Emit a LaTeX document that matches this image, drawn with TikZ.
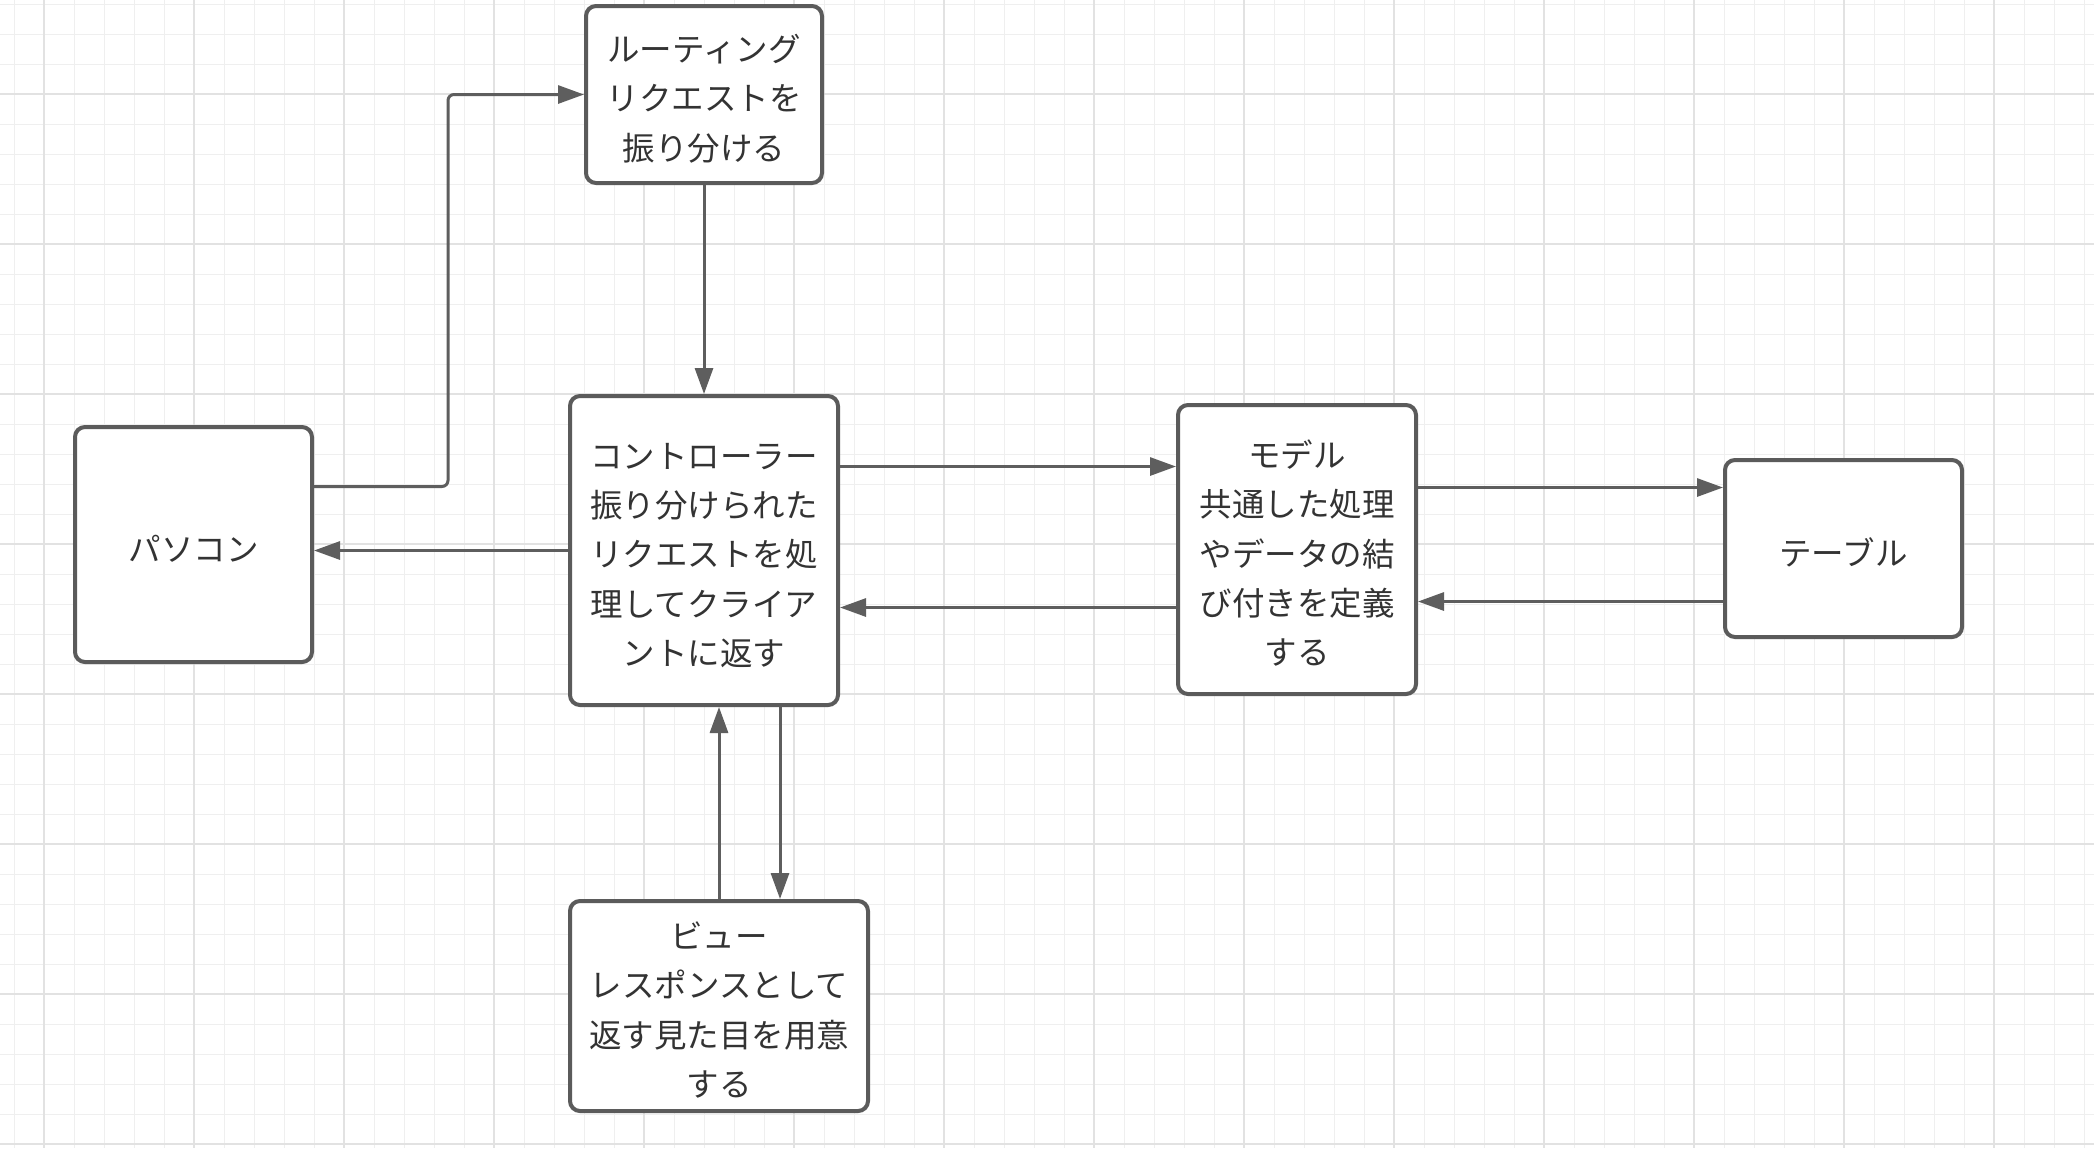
\documentclass[tikz,border=0pt]{standalone}
\usepackage{fontspec}
\setmainfont{Noto Sans CJK JP}
\usetikzlibrary{arrows.meta, positioning}
\definecolor{boxline}{HTML}{5B5B5B}
\definecolor{linkline}{HTML}{5E5E5E}
\definecolor{textgray}{HTML}{333333}
\definecolor{gridminor}{HTML}{EFEFEF}
\definecolor{gridmajor}{HTML}{E2E2E2}
\newcommand{\boxstrut}{\rule{0pt}{17.5pt}}

\begin{document}
\begin{tikzpicture}[x=0.5pt, y=-0.5pt,
                >={Triangle[length=13pt, width=9pt]},
                block/.style={rectangle, rounded corners=5pt, draw=boxline, line width=2pt, fill=white, align=center, text=textgray, font=\fontsize{16.25pt}{24.7pt}\selectfont},
                link/.style={->, draw=linkline, line width=1.5pt},
                thin grid/.style={draw=gridminor, line width=0.5pt},
                bold grid/.style={draw=gridmajor, line width=0.6pt}
            ]
                \useasboundingbox[fill=white] (0,0) rectangle (2094,1148);
                \foreach \gx in {14,44,...,2084} \draw[thin grid] (\gx,0) -- (\gx,1148);
                \foreach \gy in {4,34,...,1144} \draw[thin grid] (0,\gy) -- (2094,\gy);
                \foreach \gx in {44,194,...,1994} \draw[bold grid] (\gx,0) -- (\gx,1148);
                \foreach \gy in {94,244,...,1144} \draw[bold grid] (0,\gy) -- (2094,\gy);

                \node[block, minimum width=118pt, minimum height=88.5pt] (route) at (704,94.5) {\boxstrut ルーティング\\リクエストを\\振り分ける};
                \node[block, minimum width=134pt, minimum height=154.5pt] (ctrl) at (704,550.5) {\boxstrut コントローラー\\振り分けられた\\リクエストを処\\理してクライア\\ントに返す};
                \node[block, minimum width=118.5pt, minimum height=117.5pt] (pc) at (193.5,544.5) {\boxstrut パソコン};
                \node[block, minimum width=119pt, minimum height=144.5pt] (model) at (1297,549.5) {\boxstrut モデル\\共通した処理\\やデータの結\\び付きを定義\\する};
                \node[block, minimum width=118.5pt, minimum height=88.5pt] (table) at (1843.5,548.5) {\boxstrut テーブル};
                \node[block, minimum width=149pt, minimum height=105pt] (view) at (719,1006) {\boxstrut ビュー\\レスポンスとして\\返す見た目を用意\\する};

                \draw[link, rounded corners=3pt] ([yshift=29pt]pc.east) -- ++(134,0) |- (route.west);
                \draw[link] (route.south) -- (ctrl.north);
                \draw[link] (ctrl.west) -- (ctrl.west -| pc.east);
                \draw[link] ([yshift=42pt]ctrl.east) -- ([yshift=42pt]ctrl.east -| model.west);
                \draw[link] ([yshift=-29pt]model.west) -- ([yshift=-29pt]model.west -| ctrl.east);
                \draw[link] ([yshift=31pt]model.east) -- ([yshift=31pt]model.east -| table.west);
                \draw[link] ([yshift=-26.5pt]table.west) -- ([yshift=-26.5pt]table.west -| model.east);
                \draw[link] (view.north) -- (view.north |- ctrl.south);
                \draw[link] ([xshift=38pt]ctrl.south) -- ([xshift=38pt]ctrl.south |- view.north);
            \end{tikzpicture}
\end{document}
